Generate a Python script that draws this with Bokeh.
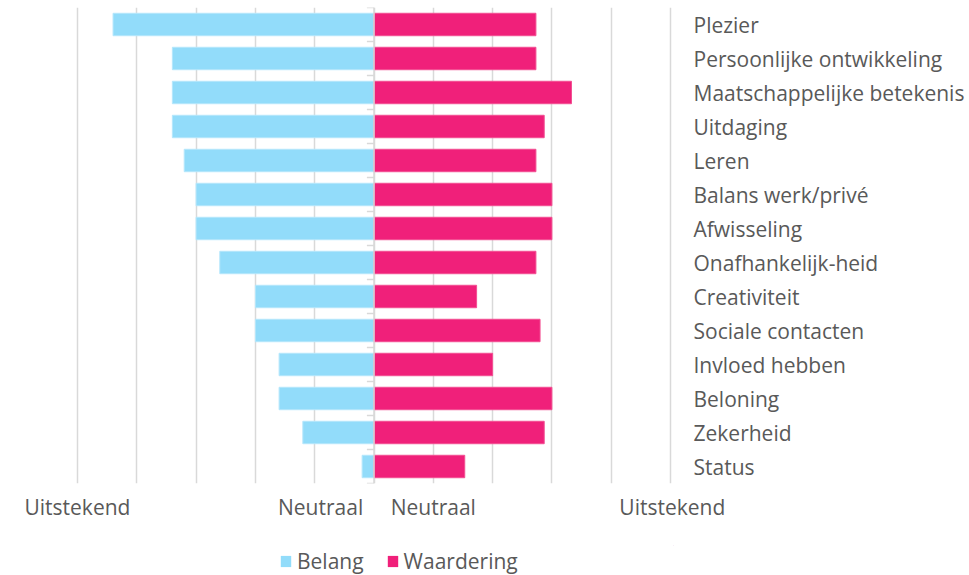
from bokeh.plotting import figure
from bokeh.layouts import column
from bokeh.models import FactorRange, Legend, LegendItem, FixedTicker, Span
from bokeh.embed import file_html
from bokeh.resources import INLINE

categories = ["Plezier", "Persoonlijke ontwikkeling", "Maatschappelijke betekenis",
              "Uitdaging", "Leren", "Balans werk/privé", "Afwisseling",
              "Onafhankelijk-heid", "Creativiteit", "Sociale contacten",
              "Invloed hebben", "Beloning", "Zekerheid", "Status"]
belang = [4.40, 3.40, 3.40, 3.40, 3.20, 3.00, 3.00, 2.60, 2.00, 2.00, 1.60, 1.60, 1.20, 0.20]
waardering = [2.73, 2.73, 3.33, 2.87, 2.73, 3.00, 3.00, 2.73, 1.73, 2.80, 2.00, 3.00, 2.87, 1.53]
axis_ticks = [-5.0, -0.9, 1.0, 5.03]
axis_labels = ["Uitstekend", "Neutraal", "Neutraal", "Uitstekend"]
series_names = ["Belang", "Waardering"]

FONT = "Open Sans"
TXT = "#595959"
BLUE = "#92DCFA"
PINK = "#F0207A"

p = figure(width=969, height=545, output_backend="svg", toolbar_location=None,
           x_range=(-5.05, 5.05), y_range=FactorRange(factors=categories[::-1], range_padding=0),
           y_axis_location="right", min_border_left=74, min_border_right=296,
           min_border_top=7, min_border_bottom=62, outline_line_color=None)

p.xgrid.ticker = FixedTicker(ticks=list(range(-5, 6)))
p.xgrid.grid_line_color = "#d9d9d9"
p.xgrid.grid_line_width = 1.5
p.ygrid.grid_line_color = None

neg = [-v for v in belang]
p.hbar(y=categories, left=neg, right=0, height=0.66, fill_color=BLUE, line_color="#b5e7fc", line_width=1)
p.hbar(y=categories, left=0, right=waardering, height=0.66, fill_color=PINK, line_color="#f24f92", line_width=1)

# center axis line and its ticks at category boundaries
p.add_layout(Span(location=0, dimension="height", line_color="#d9d9d9", line_width=1.5))
bounds = list(range(len(categories) + 1))
p.segment(x0=[-0.12] * len(bounds), x1=[0] * len(bounds), y0=bounds, y1=bounds,
          line_color="#d9d9d9", line_width=1.5)

xa = p.xaxis[0]
xa.ticker = FixedTicker(ticks=axis_ticks)
xa.major_label_overrides = {t: l for t, l in zip(axis_ticks, axis_labels)}
xa.axis_line_color = None
xa.major_tick_line_color = None
xa.minor_tick_line_color = None
xa.major_tick_out = 0
xa.major_label_text_font = FONT
xa.major_label_text_font_size = "21px"
xa.major_label_text_color = TXT
xa.major_label_standoff = 9

ya = p.yaxis[0]
ya.axis_line_color = None
ya.major_tick_line_color = None
ya.major_tick_out = 0
ya.major_label_standoff = 20
ya.major_label_text_font = FONT
ya.major_label_text_font_size = "21px"
ya.major_label_text_color = TXT

# legend strip below the chart (swatch glyphs lie outside the visible range)
lg = figure(width=969, height=30, output_backend="svg", toolbar_location=None,
            x_range=(0, 1), y_range=(0, 1), x_axis_type=None, y_axis_type=None,
            min_border=0, outline_line_color=None)
lg.xgrid.visible = False
lg.ygrid.visible = False
r1 = lg.hbar(y=[5], left=[5], right=[6], height=1, fill_color=BLUE, line_color=None)
r2 = lg.hbar(y=[5], left=[5], right=[6], height=1, fill_color=PINK, line_color=None)
legend = Legend(items=[LegendItem(label=series_names[0], renderers=[r1]),
                       LegendItem(label=series_names[1], renderers=[r2])],
                orientation="horizontal", location=(205, 0),
                margin=0, padding=0, spacing=22, glyph_width=13, glyph_height=14,
                label_standoff=5, border_line_color=None, background_fill_alpha=0,
                label_text_font=FONT, label_text_font_size="21px", label_text_color=TXT)
lg.add_layout(legend, "center")

layout = column(p, lg, spacing=0)
open("out.html", "w").write(file_html(layout, INLINE))
